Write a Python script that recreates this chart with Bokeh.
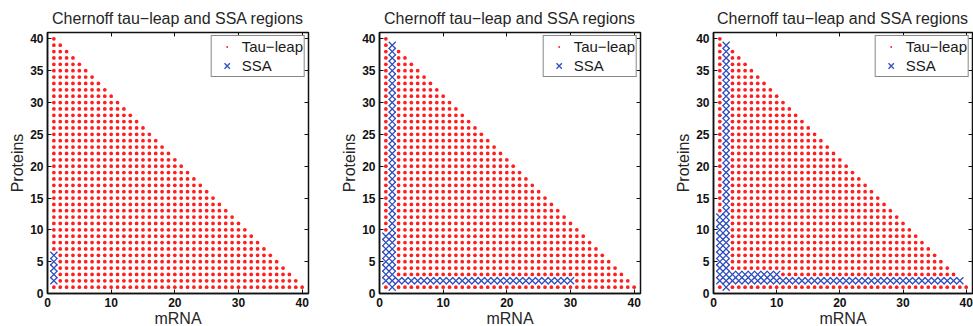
from bokeh.plotting import figure
from bokeh.layouts import row
from bokeh.models import Range1d, FixedTicker, LinearAxis, Legend, LegendItem, ColumnDataSource
from bokeh.embed import file_html
from bokeh.resources import INLINE

# ---------------- data ----------------
TITLE = "Chernoff tau\u2212leap and SSA regions"
X_LABEL = "mRNA"
Y_LABEL = "Proteins"
LEGEND_LABELS = ["Tau\u2212leap", "SSA"]
x_ticks = [0, 10, 20, 30, 40]
y_ticks = [0, 5, 10, 15, 20, 25, 30, 35, 40]
axis_max = 41
min_count = 1          # smallest mRNA / protein count drawn
state_sum_max = 41     # states with mRNA + Proteins <= 41

# SSA regions per panel: (mRNA from, mRNA to, Proteins from, Proteins to)
ssa_blocks_1 = [(1, 1, 2, 6)]
ssa_blocks_2 = [(2, 2, 1, 39), (1, 1, 2, 9), (1, 30, 2, 2)]
ssa_blocks_3 = [(2, 2, 1, 39), (1, 1, 2, 12), (1, 39, 2, 2), (1, 10, 3, 3)]
panels = [ssa_blocks_1, ssa_blocks_2, ssa_blocks_3]

FONT = "Liberation Sans"
RED = "#ff1f1f"
BLUE = "#2f4dbd"

# layout per panel: (min_border_left, frame_width, min_border_right)
layouts = [(47, 261, 17), (54, 261, 10), (63, 259, 1)]


def split_states(blocks):
    ssa = set()
    for m0, m1, p0, p1 in blocks:
        for m in range(m0, m1 + 1):
            for q in range(p0, p1 + 1):
                ssa.add((m, q))
    tx, ty, sx, sy = [], [], [], []
    for m in range(min_count, state_sum_max):
        for q in range(min_count, state_sum_max - m + 1):
            if (m, q) in ssa:
                sx.append(m); sy.append(q)
            else:
                tx.append(m); ty.append(q)
    return tx, ty, sx, sy


def make_panel(blocks, lay):
    bl, fw, br = lay
    p = figure(frame_width=fw, frame_height=261,
               min_border_left=bl, min_border_right=br,
               min_border_top=32, min_border_bottom=33,
               x_range=Range1d(0, axis_max), y_range=Range1d(0, axis_max),
               output_backend="svg", toolbar_location=None,
               title=TITLE)
    p.title.text_font = FONT
    p.title.text_font_size = "16px"
    p.title.text_font_style = "normal"
    p.title.text_color = "#262626"
    p.title.align = "center"
    p.title.vertical_align = "middle"
    p.background_fill_color = "white"
    p.border_fill_color = "white"
    p.grid.visible = False
    p.outline_line_color = "#111111"
    p.outline_line_width = 1.5

    for ax, ticks in ((p.xaxis[0], x_ticks), (p.yaxis[0], y_ticks)):
        ax.ticker = FixedTicker(ticks=ticks)
        ax.major_tick_in = 4
        ax.major_tick_out = 0
        ax.minor_tick_line_color = None
        ax.axis_line_color = "#111111"
        ax.axis_line_width = 1.5
        ax.major_tick_line_color = "#111111"
        ax.major_label_text_font = FONT
        ax.major_label_text_font_size = "12px"
        ax.major_label_text_font_style = "bold"
        ax.major_label_text_color = "#111111"
        ax.axis_label_text_font = FONT
        ax.axis_label_text_font_size = "16px"
        ax.axis_label_text_font_style = "normal"
        ax.axis_label_text_color = "#262626"
    p.xaxis[0].axis_label = X_LABEL
    p.yaxis[0].axis_label = Y_LABEL
    p.xaxis[0].major_label_standoff = 4
    p.yaxis[0].major_label_standoff = 4
    p.xaxis[0].axis_label_standoff = 0
    p.yaxis[0].axis_label_standoff = 1

    for place, ticks in (("above", x_ticks), ("right", y_ticks)):
        ax = LinearAxis(ticker=FixedTicker(ticks=ticks))
        ax.major_tick_in = 4
        ax.major_tick_out = 0
        ax.minor_tick_line_color = None
        ax.axis_line_color = None
        ax.major_tick_line_color = "#111111"
        ax.major_label_text_font_size = "1px"
        ax.major_label_text_color = None
        ax.major_label_standoff = 0
        p.add_layout(ax, place)

    tx, ty, sx, sy = split_states(blocks)
    r_tau = p.scatter(x="x", y="y", source=ColumnDataSource(dict(x=tx, y=ty)),
                      marker="dot", size=15, line_color=RED, fill_color=RED)
    r_ssa = p.scatter(x="x", y="y", source=ColumnDataSource(dict(x=sx, y=sy)),
                      marker="x", size=10, line_color=BLUE, line_width=1.3)

    leg = Legend(items=[LegendItem(label=LEGEND_LABELS[0], renderers=[r_tau]),
                        LegendItem(label=LEGEND_LABELS[1], renderers=[r_ssa])],
                 location="top_right")
    leg.margin = 3
    leg.padding = 1
    leg.spacing = 0
    leg.glyph_width = 28
    leg.glyph_height = 19
    leg.label_height = 19
    leg.label_standoff = 1
    leg.label_text_font = FONT
    leg.label_text_font_size = "15px"
    leg.label_text_color = "#1a1a1a"
    leg.border_line_color = "#111111"
    leg.border_line_width = 1.5
    leg.background_fill_color = "white"
    leg.background_fill_alpha = 1
    p.add_layout(leg)
    return p


figs = [make_panel(b, l) for b, l in zip(panels, layouts)]
layout = row(*figs, spacing=0)

open("out.html", "w").write(file_html(layout, INLINE))
